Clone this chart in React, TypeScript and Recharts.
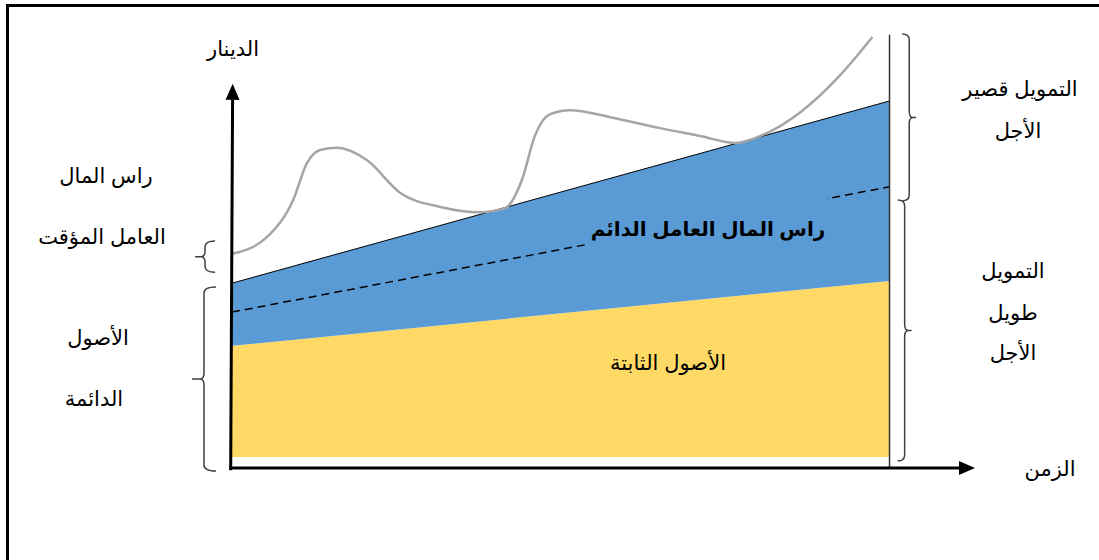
import React from 'react'
import {
  ComposedChart,
  Area,
  Line,
  XAxis,
  YAxis,
  ReferenceLine,
} from 'recharts'

// time runs 0..100 across the plot, value in "dinar" units 0..100
const timeEnds = [0, 100]
const fixedBase = [2.5, 2.5]
const fixedTop = [27.9, 42.7]
const permanentTop = [42.2, 83.8]
const longTermLine = [35.6, 64.2]

const curveTime = [0, 5.3, 9.3, 11.4, 13.4, 16.0, 20.5, 25.6, 31.7, 37.7, 41.6, 44.1, 46.1, 48.4, 51.4, 57.5, 65.1, 71.2, 76.6, 81.1, 86.5, 92.5, 97.4]
const curveValue = [48.9, 52.7, 61.2, 69.6, 72.6, 73.1, 70.3, 62.8, 59.6, 58.4, 59.4, 65.8, 76.0, 80.8, 81.7, 80.1, 77.6, 75.8, 74.2, 76.3, 81.3, 89.7, 98.4]

const bandRows = timeEnds.map((t, i) => ({
  t,
  fixed: [fixedBase[i], fixedTop[i]],
  perm: [fixedTop[i], permanentTop[i]],
  permTop: permanentTop[i],
  longTerm: longTermLine[i],
}))

const curveRows = curveTime.map((t, i) => ({ t, total: curveValue[i] }))

const COLORS = {
  fixed: '#FFD966',
  perm: '#5B9BD5',
  curve: '#A5A5A5',
  brace: '#404040',
}

const FONT = '"Liberation Sans", Arial, "DejaVu Sans", sans-serif'

function ArrowShape(props: any) {
  const { x1, y1, x2, y2 } = props
  const ang = Math.atan2(y2 - y1, x2 - x1)
  const len = 16
  const half = 7
  const bx = x2 - len * Math.cos(ang)
  const by = y2 - len * Math.sin(ang)
  const px = -Math.sin(ang) * half
  const py = Math.cos(ang) * half
  return (
    <g>
      <line x1={x1} y1={y1} x2={bx} y2={by} stroke="#000" strokeWidth={3} />
      <polygon
        points={`${x2},${y2} ${bx + px},${by + py} ${bx - px},${by - py}`}
        fill="#000"
      />
    </g>
  )
}

function makeBrace(side: 'left' | 'right', hook: number, tip: number) {
  return (props: any) => {
    const { x1, y1, y2 } = props
    const top = Math.min(y1, y2)
    const bot = Math.max(y1, y2)
    const mid = (top + bot) / 2
    const s = side === 'left' ? 1 : -1
    const xc = x1
    const r = 6
    const d = [
      `M ${xc + s * hook} ${top}`,
      `Q ${xc} ${top} ${xc} ${top + r}`,
      `L ${xc} ${mid - r}`,
      `Q ${xc} ${mid} ${xc - s * 4} ${mid}`,
      `L ${xc - s * tip} ${mid}`,
      `M ${xc - s * 4} ${mid}`,
      `Q ${xc} ${mid} ${xc} ${mid + r}`,
      `L ${xc} ${bot - r}`,
      `Q ${xc} ${bot} ${xc + s * hook} ${bot}`,
    ].join(' ')
    return <path d={d} fill="none" stroke={COLORS.brace} strokeWidth={1.5} />
  }
}

function Txt({
  x,
  y,
  children,
  bold,
  size = 21,
}: {
  x: number
  y: number
  children: React.ReactNode
  bold?: boolean
  size?: number
}) {
  return (
    <div
      style={{
        position: 'absolute',
        left: x,
        top: y,
        transform: 'translate(-50%, -50%)',
        direction: 'rtl',
        whiteSpace: 'nowrap',
        fontFamily: FONT,
        fontSize: size,
        fontWeight: bold ? 700 : 400,
        color: '#000',
        lineHeight: 1,
      }}
    >
      {children}
    </div>
  )
}

export default function App() {
  return (
    <div
      style={{
        position: 'fixed',
        left: 0,
        top: 0,
        width: 1099,
        height: 560,
        overflow: 'hidden',
        background: '#fff',
      }}
    >
      <div
        style={{
          position: 'absolute',
          left: 6,
          top: 4,
          width: 2000,
          height: 2000,
          border: '3px solid #000',
        }}
      />
      <div style={{ position: 'absolute', left: 0, top: 0 }}>
        <ComposedChart
          width={1099}
          height={560}
          margin={{ top: 30, right: 124, bottom: 92, left: 232 }}
        >
          <XAxis dataKey="t" type="number" domain={[0, 113]} hide allowDataOverflow />
          <YAxis type="number" domain={[0, 100]} hide allowDataOverflow />

          <Area
            data={bandRows}
            dataKey="fixed"
            type="linear"
            fill={COLORS.fixed}
            fillOpacity={1}
            stroke="none"
            isAnimationActive={false}
          />
          <Area
            data={bandRows}
            dataKey="perm"
            type="linear"
            fill={COLORS.perm}
            fillOpacity={1}
            stroke="none"
            isAnimationActive={false}
          />
          <Line
            data={bandRows}
            dataKey="longTerm"
            type="linear"
            stroke="#000"
            strokeWidth={1.5}
            strokeDasharray="8 5"
            dot={false}
            isAnimationActive={false}
          />
          <Line
            data={bandRows}
            dataKey="permTop"
            type="linear"
            stroke="#000"
            strokeWidth={1}
            dot={false}
            isAnimationActive={false}
          />
          <Line
            data={curveRows}
            dataKey="total"
            type="monotone"
            stroke={COLORS.curve}
            strokeWidth={2.5}
            dot={false}
            isAnimationActive={false}
          />

          {/* right edge of the period */}
          <ReferenceLine
            segment={[{ x: 100, y: 0 }, { x: 100, y: 98.9 }]}
            stroke="#333"
            strokeWidth={1.5}
            ifOverflow="visible"
          />

          {/* axes with arrows */}
          <ReferenceLine
            segment={[{ x: -0.4, y: 0 }, { x: 113, y: 0 }]}
            ifOverflow="visible"
            shape={ArrowShape}
          />
          <ReferenceLine
            segment={[{ x: -0.2, y: -0.5 }, { x: 0.1, y: 87.7 }]}
            ifOverflow="visible"
            shape={ArrowShape}
          />

          {/* braces */}
          <ReferenceLine
            segment={[{ x: -4.1, y: 44.7 }, { x: -4.1, y: 51.8 }]}
            ifOverflow="visible"
            shape={makeBrace('left', 10, 10)}
          />
          <ReferenceLine
            segment={[{ x: -4.26, y: -0.7 }, { x: -4.26, y: 41.3 }]}
            ifOverflow="visible"
            shape={makeBrace('left', 12, 12)}
          />
          <ReferenceLine
            segment={[{ x: 103.0, y: 61.0 }, { x: 103.0, y: 99.1 }]}
            ifOverflow="visible"
            shape={makeBrace('right', 7, 7)}
          />
          <ReferenceLine
            segment={[{ x: 102.3, y: 1.6 }, { x: 102.3, y: 61.2 }]}
            ifOverflow="visible"
            shape={makeBrace('right', 7, 7)}
          />
        </ComposedChart>
      </div>

      <Txt x={233} y={48}>الدينار</Txt>
      <Txt x={106} y={175}>راس المال</Txt>
      <Txt x={102} y={236}>العامل المؤقت</Txt>
      <Txt x={98} y={337}>الأصول</Txt>
      <Txt x={94} y={398}>الدائمة</Txt>

      {/* text box hiding part of the dashed line, as in the source drawing */}
      <div
        style={{
          position: 'absolute',
          left: 588,
          top: 196,
          width: 239,
          height: 54,
          background: COLORS.perm,
        }}
      />
      <Txt x={708} y={229} bold size={20}>راس المال العامل الدائم</Txt>
      <Txt x={668} y={362}>الأصول الثابتة</Txt>

      <Txt x={1020} y={88}>التمويل قصير</Txt>
      <Txt x={1018} y={130}>الأجل</Txt>
      <Txt x={1013} y={270}>التمويل</Txt>
      <Txt x={1013} y={312}>طويل</Txt>
      <Txt x={1013} y={352}>الأجل</Txt>
      <Txt x={1050} y={468}>الزمن</Txt>
    </div>
  )
}
